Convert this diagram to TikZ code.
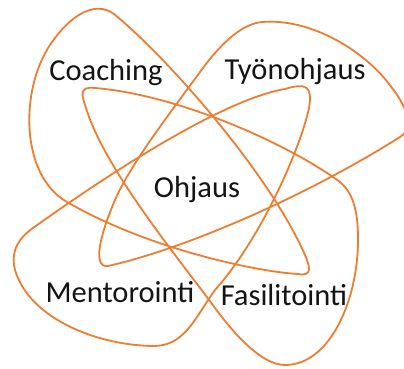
\documentclass[tikz,border=0pt]{standalone}
\usepackage{fontspec}
\setmainfont{Carlito}
\definecolor{loopcol}{RGB}{236,125,49}
\definecolor{txtcol}{RGB}{20,20,20}
\begin{document}
\begin{tikzpicture}[x=1pt,y=-1pt,
  petal/.style={draw=loopcol, line width=1.8pt, line join=round},
  lbl/.style={anchor=base, inner sep=0pt, text=txtcol, font=\fontsize{30.5}{35}\selectfont}]
\fill[white] (0,0) rectangle (404,369);
\useasboundingbox (0,0) rectangle (404,369);
\begin{scope}
\clip (0,0) rectangle (404,369);
% Coaching loop: rounded apex top left, sharp tip lower middle
\draw[petal] (298,274)
  .. controls (260,272) and (150,250) .. (67,202)
  .. controls (20,175) and (20,90) .. (50,45)
  .. controls (70,15) and (95,0) .. (114,14)
  .. controls (170,60) and (270,175) .. (305,255)
  .. controls (309,265) and (314,277) .. cycle;
% Tyonohjaus loop: rounded apex top right, sharp tip lower left
\draw[petal] (108,266)
  .. controls (180,250) and (300,200) .. (400,137)
  .. controls (416,127) and (404,103) .. (392,88)
  .. controls (365,50) and (310,18) .. (262,22)
  .. controls (240,24) and (218,47) .. (200,72)
  .. controls (170,113) and (130,165) .. (115,200)
  .. controls (100,235) and (92,268) .. cycle;
% Fasilitointi loop: bulge lower right, sharp tip upper left
\draw[petal] (95,88)
  .. controls (180,95) and (290,145) .. (340,182)
  .. controls (355,195) and (358,215) .. (358,240)
  .. controls (358,300) and (330,365) .. (285,365)
  .. controls (262,365) and (235,335) .. (215,308)
  .. controls (180,260) and (105,170) .. (86,108)
  .. controls (82,96) and (78,86) .. cycle;
% Mentorointi loop: bulge lower left, sharp tip upper right
\draw[petal] (285,89)
  .. controls (305,83) and (313,85) .. (309,108)
  .. controls (300,150) and (260,240) .. (215,290)
  .. controls (195,318) and (185,345) .. (155,346)
  .. controls (100,346) and (30,320) .. (15,270)
  .. controls (10,250) and (20,237) .. (33,228)
  .. controls (100,180) and (220,100) .. cycle;
\end{scope}
\node[lbl] (coach) at (106,81) {Coaching};
\node[lbl] (tyon)  at (295,79) {Työnohjaus};
\node[lbl] (ohj)   at (197,197) {Ohjaus};
\node[lbl] (ment)  at (120,302) {Mentorointi};
\node[lbl] (fasi)  at (284,305) {Fasilitointi};
\end{tikzpicture}
\end{document}
